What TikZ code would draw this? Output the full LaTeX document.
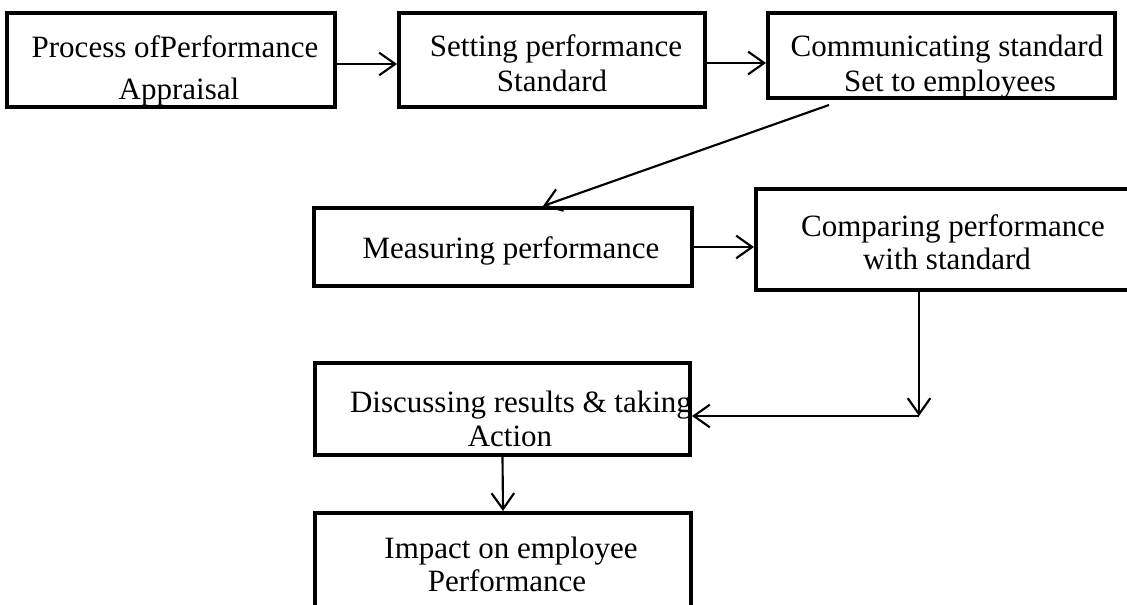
\documentclass[tikz,border=0pt]{standalone}
\usepackage{fontspec}
\setmainfont{Liberation Serif}
\usetikzlibrary{arrows.meta}
\begin{document}
\begin{tikzpicture}[x=0.75pt,y=-0.75pt,
  box/.style={draw, line width=3pt, inner sep=0pt},
  txt/.style={anchor=base, inner sep=0pt, font=\fontsize{23.25}{28}\selectfont},
  arr/.style={-{Straight Barb[length=12pt,width=17pt]}, line width=1.6pt}]
  % canvas
  \path[use as bounding box] (0,0) rectangle (1127,605);
  \fill[white] (0,0) rectangle (1127,605);
  \clip (0,0) rectangle (1127,605);

  % boxes
  \node[box, minimum width=246pt,    minimum height=70.5pt]  (b1) at (171,60) {};
  \node[box, minimum width=229.5pt,  minimum height=70.5pt]  (b2) at (552,60) {};
  \node[box, minimum width=260.25pt, minimum height=63.75pt] (b3) at (941.5,55.5) {};
  \node[box, minimum width=283.5pt,  minimum height=58.5pt]  (b4) at (503,247) {};
  \node[box, minimum width=288pt,    minimum height=75.75pt] (b5) at (948,239.5) {};
  \node[box, minimum width=281.25pt, minimum height=69pt]    (b6) at (502.5,409) {};
  \node[box, minimum width=282pt,    minimum height=95.25pt] (b7) at (503,576.5) {};

  % box texts, one node per line
  \node[txt] (t1a) at (175,58)  {Process ofPerformance};
  \node[txt] (t1b) at (179,100) {Appraisal};
  \node[txt] (t2a) at (556,57)  {Setting performance};
  \node[txt] (t2b) at (552,92)  {Standard};
  \node[txt] (t3a) at (947,57)  {Communicating standard};
  \node[txt] (t3b) at (950,92)  {Set to employees};
  \node[txt] (t4a) at (511,259) {Measuring performance};
  \node[txt] (t5a) at (953,237) {Comparing performance};
  \node[txt] (t5b) at (947,270) {with standard};
  \node[txt] (t6a) at (521,412) {Discussing results \& taking};
  \node[txt] (t6b) at (510,446) {Action};
  \node[txt] (t7a) at (511,558) {Impact on employee};
  \node[txt] (t7b) at (507,591) {Performance};

  % connectors
  \draw[arr] ([yshift=-3pt]b1.east) coordinate (s1) -- (s1 -| b2.west);
  \draw[arr] ([yshift=-2.25pt]b2.east) coordinate (s2) -- (s2 -| b3.west);
  \coordinate (d0) at (829,105);
  \draw[arr] (d0) -- ([xshift=173.25pt]b4.north west);
  \draw[arr] (b4.east) -- (b4.east -| b5.west);
  \coordinate (elbow) at (919,416);
  \draw[arr] (elbow |- b5.south) -- (elbow);
  \draw[arr] (elbow) -- (elbow -| b6.east);
  \draw[arr] (b6.south) -- (b7.north);
\end{tikzpicture}
\end{document}
